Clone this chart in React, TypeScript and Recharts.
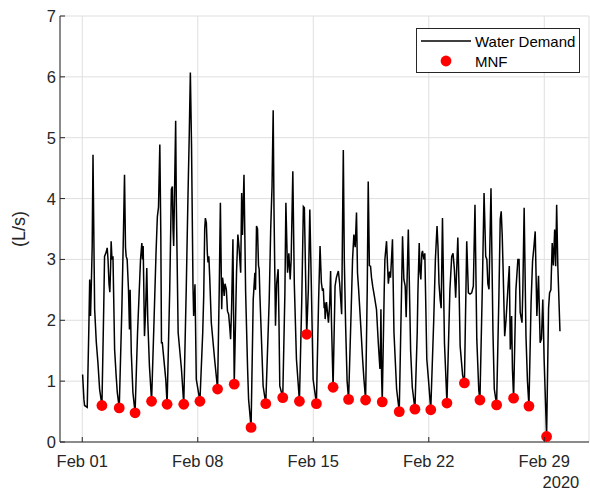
import { CartesianGrid, ComposedChart, Line, Scatter, XAxis, YAxis } from 'recharts'

// time = days since Feb 01 2020 00:00, flow in L/s
const demand: [number, number][] = [
  [0.02, 1.11], [0.1, 0.7], [0.14, 0.6], [0.3, 0.57], [0.4, 1.9], [0.45, 2.67], [0.5, 2.07], [0.55, 2.6], [0.6, 3.2], [0.65, 4.72], [0.72, 2.9], [0.75, 2.18], [0.85, 1.64], [0.95, 1.3], [1.05, 0.87], [1.19, 0.6],
  [1.3, 2.2], [1.35, 3.05], [1.45, 3.12], [1.51, 3.19], [1.56, 3.0], [1.62, 2.6], [1.67, 2.46], [1.72, 2.9], [1.75, 3.3], [1.8, 3.0], [1.86, 3.05], [1.96, 1.52], [2.05, 1.1], [2.12, 0.82], [2.24, 0.56],
  [2.4, 2.2], [2.5, 3.5], [2.56, 4.39], [2.62, 3.2], [2.66, 3.05], [2.72, 3.0], [2.8, 2.51], [2.86, 1.85], [2.9, 2.5], [2.97, 1.47], [3.07, 0.81], [3.2, 0.48],
  [3.35, 1.8], [3.53, 3.0], [3.61, 3.27], [3.65, 3.0], [3.69, 3.22], [3.72, 2.7], [3.77, 1.74], [3.83, 2.1], [3.91, 2.86], [3.97, 2.0], [4.07, 1.25], [4.2, 0.67],
  [4.35, 2.0], [4.47, 3.11], [4.55, 3.7], [4.62, 3.86], [4.7, 4.89], [4.76, 3.4], [4.8, 1.63], [4.85, 1.63], [5.06, 1.03], [5.14, 0.62],
  [5.3, 2.5], [5.4, 4.15], [5.46, 4.2], [5.5, 3.5], [5.54, 3.22], [5.58, 3.9], [5.66, 5.28], [5.7, 3.93], [5.81, 1.8], [6.01, 1.2], [6.15, 0.62],
  [6.3, 2.5], [6.41, 4.09], [6.48, 5.0], [6.55, 6.07], [6.62, 4.9], [6.71, 2.56], [6.75, 2.07], [6.83, 2.59], [6.91, 1.03], [7.13, 0.67],
  [7.3, 1.8], [7.36, 2.4], [7.42, 3.5], [7.46, 3.68], [7.52, 3.6], [7.58, 3.1], [7.62, 2.95], [7.67, 3.05], [7.72, 2.73], [7.82, 1.96], [8.02, 1.36], [8.2, 0.87],
  [8.3, 2.5], [8.37, 3.93], [8.45, 2.18], [8.5, 2.7], [8.53, 2.64], [8.6, 2.4], [8.65, 2.6], [8.73, 2.51], [8.8, 2.15], [8.87, 2.1], [8.93, 1.91], [8.99, 1.69], [9.05, 2.2], [9.13, 3.33], [9.21, 0.95],
  [9.35, 2.8], [9.43, 3.41], [9.5, 3.2], [9.6, 2.78], [9.66, 4.09], [9.71, 3.4], [9.8, 4.39], [9.9, 2.46], [10.02, 1.2], [10.08, 0.7], [10.23, 0.24],
  [10.36, 2.34], [10.46, 2.78], [10.5, 2.5], [10.56, 3.55], [10.62, 3.5], [10.68, 2.9], [10.72, 2.84], [10.76, 2.45], [10.96, 0.92], [11.12, 0.63],
  [11.33, 2.34], [11.42, 3.5], [11.5, 4.2], [11.57, 5.45], [11.62, 3.8], [11.71, 1.91], [11.78, 2.6], [11.87, 2.84], [11.92, 2.0], [11.97, 0.92], [12.15, 0.73],
  [12.28, 2.45], [12.34, 3.93], [12.44, 2.78], [12.52, 3.1], [12.6, 2.67], [12.66, 3.0], [12.76, 4.45], [12.85, 2.6], [12.98, 1.36], [13.16, 0.67],
  [13.3, 2.3], [13.4, 3.87], [13.46, 3.85], [13.55, 2.5], [13.6, 1.77], [13.7, 2.5], [13.79, 3.82], [13.88, 2.6], [13.99, 1.03], [14.19, 0.63],
  [14.32, 2.3], [14.41, 3.22], [14.49, 2.62], [14.55, 2.5], [14.61, 2.51], [14.66, 2.2], [14.69, 2.29], [14.72, 2.02], [14.8, 2.3], [14.92, 1.96], [15.0, 2.3], [15.05, 2.81], [15.1, 2.0], [15.2, 0.9],
  [15.32, 2.56], [15.4, 2.7], [15.45, 2.75], [15.52, 2.81], [15.6, 2.6], [15.72, 2.1], [15.82, 4.8], [15.88, 3.0], [15.96, 1.91], [16.05, 1.0], [16.14, 0.7],
  [16.3, 2.2], [16.38, 3.0], [16.46, 3.41], [16.54, 3.2], [16.62, 3.77], [16.68, 2.78], [16.75, 2.5], [16.83, 2.13], [16.9, 1.8], [16.99, 1.36], [17.07, 1.03], [17.17, 0.69],
  [17.27, 2.5], [17.33, 4.28], [17.4, 2.9], [17.47, 2.89], [17.53, 2.7], [17.6, 2.56], [17.7, 2.4], [17.83, 2.18], [17.94, 1.63], [18.04, 1.2], [18.07, 1.5], [18.1, 2.18], [18.14, 1.1], [18.18, 0.66],
  [18.3, 2.5], [18.34, 3.0], [18.44, 3.3], [18.5, 2.9], [18.55, 2.6], [18.62, 2.8], [18.68, 2.7], [18.74, 3.0], [18.8, 3.33], [18.89, 1.8], [19.05, 0.87], [19.21, 0.5],
  [19.35, 2.5], [19.41, 3.38], [19.49, 2.67], [19.57, 2.56], [19.63, 2.05], [19.68, 2.6], [19.76, 3.49], [19.9, 1.5], [20.0, 0.9], [20.16, 0.54],
  [20.3, 1.8], [20.34, 2.45], [20.42, 3.27], [20.47, 2.8], [20.52, 2.67], [20.58, 3.1], [20.62, 3.14], [20.7, 3.0], [20.76, 3.1], [20.88, 1.36], [20.98, 1.03], [21.12, 0.53],
  [21.3, 2.0], [21.4, 3.0], [21.5, 3.55], [21.56, 3.2], [21.62, 2.6], [21.69, 2.34], [21.75, 2.2], [21.83, 3.68], [21.95, 1.63], [22.1, 0.64],
  [22.28, 2.5], [22.39, 3.05], [22.47, 3.1], [22.55, 2.84], [22.63, 2.37], [22.7, 2.9], [22.76, 3.36], [22.83, 2.6], [22.9, 1.58], [23.05, 1.1], [23.16, 0.97],
  [23.3, 3.3], [23.4, 2.45], [23.5, 2.43], [23.6, 2.45], [23.7, 2.56], [23.8, 3.9], [23.91, 1.69], [24.03, 0.85], [24.1, 0.69],
  [24.25, 2.6], [24.35, 4.09], [24.45, 3.05], [24.52, 3.0], [24.58, 2.6], [24.65, 2.51], [24.77, 4.17], [24.89, 1.8], [24.97, 0.87], [25.11, 0.61],
  [25.25, 2.4], [25.33, 3.66], [25.39, 3.79], [25.45, 3.4], [25.5, 2.89], [25.6, 1.74], [25.68, 2.0], [25.78, 2.45], [25.88, 2.89], [25.94, 1.52], [26.02, 2.07], [26.07, 1.2], [26.14, 0.72],
  [26.28, 2.5], [26.4, 3.0], [26.47, 3.0], [26.54, 2.13], [26.65, 1.96], [26.7, 2.5], [26.78, 3.85], [26.89, 1.74], [26.98, 1.0], [27.07, 0.59],
  [27.2, 2.3], [27.29, 2.97], [27.37, 3.2], [27.45, 3.46], [27.55, 2.07], [27.65, 2.73], [27.75, 1.63], [27.83, 1.7], [27.91, 2.34], [27.99, 1.36], [28.14, 0.09],
  [28.26, 2.2], [28.32, 2.45], [28.4, 2.5], [28.48, 3.27], [28.55, 2.9], [28.63, 3.49], [28.69, 2.89], [28.75, 3.9], [28.82, 2.9], [28.95, 1.82],
]

const mnfDay = [1.19, 2.24, 3.2, 4.2, 5.14, 6.15, 7.13, 8.2, 9.21, 10.23, 11.12, 12.15, 13.16, 13.6, 14.19, 15.2, 16.14, 17.17, 18.18, 19.21, 20.16, 21.12, 22.1, 23.16, 24.1, 25.11, 26.14, 27.07, 28.14]
const mnfLps = [0.6, 0.56, 0.48, 0.67, 0.62, 0.62, 0.67, 0.87, 0.95, 0.24, 0.63, 0.73, 0.67, 1.77, 0.63, 0.9, 0.7, 0.69, 0.66, 0.5, 0.54, 0.53, 0.64, 0.97, 0.69, 0.61, 0.72, 0.59, 0.09]

const dateTicks = [0, 7, 14, 21, 28]
const dateLabels = ['Feb 01', 'Feb 08', 'Feb 15', 'Feb 22', 'Feb 29']
const yearLabel = '2020'
const flowTicks = [0, 1, 2, 3, 4, 5, 6, 7]

const X_DOMAIN: [number, number] = [-1.35, 30.71]
const Y_DOMAIN: [number, number] = [0, 7]
const INK = '#262626'
const FONT = '"Liberation Sans", Arial, Helvetica, sans-serif'

const demandRows = demand.map(([t, v]) => ({ t, v }))
const mnfRows = mnfDay.map((t, i) => ({ t, v: mnfLps[i] }))

function BottomTick({ x, y, payload }: any) {
  const i = dateTicks.indexOf(payload.value)
  return (
    <g>
      <line x1={x} y1={y} x2={x} y2={y - 5} stroke={INK} />
      <text x={x} y={y + 24.5} textAnchor="middle" fill={INK} fontSize={16.5} fontFamily={FONT}>
        {dateLabels[i]}
      </text>
      {i === dateTicks.length - 1 ? (
        <text x={x + 35} y={y + 45.5} textAnchor="end" fill={INK} fontSize={16.5} fontFamily={FONT}>
          {yearLabel}
        </text>
      ) : null}
    </g>
  )
}

function TopTick({ x, y }: any) {
  return <line x1={x} y1={y} x2={x} y2={y + 5} stroke={INK} />
}

function LeftTick({ x, y, payload }: any) {
  return (
    <g>
      <line x1={x} y1={y} x2={x + 5} y2={y} stroke={INK} />
      <text x={x - 4} y={y + 6} textAnchor="end" fill={INK} fontSize={16.5} fontFamily={FONT}>
        {payload.value}
      </text>
    </g>
  )
}

function RightTick({ x, y }: any) {
  return <line x1={x} y1={y} x2={x - 5} y2={y} stroke={INK} />
}

function RedDot({ cx, cy }: any) {
  return <circle cx={cx} cy={cy} r={5.4} fill="#ff0000" />
}

export default function App() {
  return (
    <div style={{ position: 'absolute', left: 0, top: 0, width: 590, height: 492, background: '#fff', fontFamily: FONT }}>
      <ComposedChart width={590} height={492} margin={{ top: 16, right: 1, bottom: 0, left: 0 }}>
        <CartesianGrid stroke="#dfdfdf" />
        <XAxis
          type="number"
          dataKey="t"
          domain={X_DOMAIN}
          ticks={dateTicks}
          interval={0}
          allowDataOverflow
          height={50}
          tickSize={0}
          tickMargin={0}
          tickLine={false}
          axisLine={{ stroke: INK }}
          tick={<BottomTick />}
        />
        <XAxis
          xAxisId="top"
          orientation="top"
          type="number"
          dataKey="t"
          domain={X_DOMAIN}
          ticks={dateTicks}
          interval={0}
          allowDataOverflow
          height={0}
          tickSize={0}
          tickMargin={0}
          tickLine={false}
          axisLine={{ stroke: INK }}
          tick={<TopTick />}
        />
        <YAxis
          type="number"
          domain={Y_DOMAIN}
          ticks={flowTicks}
          interval={0}
          allowDataOverflow
          width={60}
          tickSize={0}
          tickMargin={0}
          tickLine={false}
          axisLine={{ stroke: INK }}
          tick={<LeftTick />}
        />
        <YAxis
          yAxisId="right"
          orientation="right"
          type="number"
          domain={Y_DOMAIN}
          ticks={flowTicks}
          interval={0}
          allowDataOverflow
          width={0}
          tickSize={0}
          tickMargin={0}
          tickLine={false}
          axisLine={{ stroke: INK }}
          tick={<RightTick />}
        />
        <Line
          data={demandRows}
          dataKey="v"
          type="linear"
          stroke="#000000"
          strokeWidth={1.5}
          dot={false}
          activeDot={false}
          isAnimationActive={false}
        />
        <Scatter data={mnfRows} dataKey="v" fill="#ff0000" shape={<RedDot />} isAnimationActive={false} />
      </ComposedChart>

      <div
        style={{
          position: 'absolute',
          left: 0,
          top: 200,
          width: 40,
          height: 60,
        }}
      >
        <svg width={40} height={60}>
          <text
            transform="translate(25 29) rotate(-90)"
            textAnchor="middle"
            fill={INK}
            fontSize={18}
            fontFamily={FONT}
          >
            (L/s)
          </text>
        </svg>
      </div>

      <div
        style={{
          position: 'absolute',
          left: 416,
          top: 28,
          width: 164,
          height: 45,
          boxSizing: 'border-box',
          border: `1px solid ${INK}`,
          background: '#fff',
        }}
      >
        <svg width={162} height={43} style={{ display: 'block' }}>
          <line x1={4} y1={12} x2={54} y2={12} stroke="#000" strokeWidth={1.5} />
          <circle cx={29} cy={32} r={5.4} fill="#ff0000" />
          <text x={58} y={18} fill="#000" fontSize={15} fontFamily={FONT}>
            Water Demand
          </text>
          <text x={58} y={38} fill="#000" fontSize={15} fontFamily={FONT}>
            MNF
          </text>
        </svg>
      </div>
    </div>
  )
}
